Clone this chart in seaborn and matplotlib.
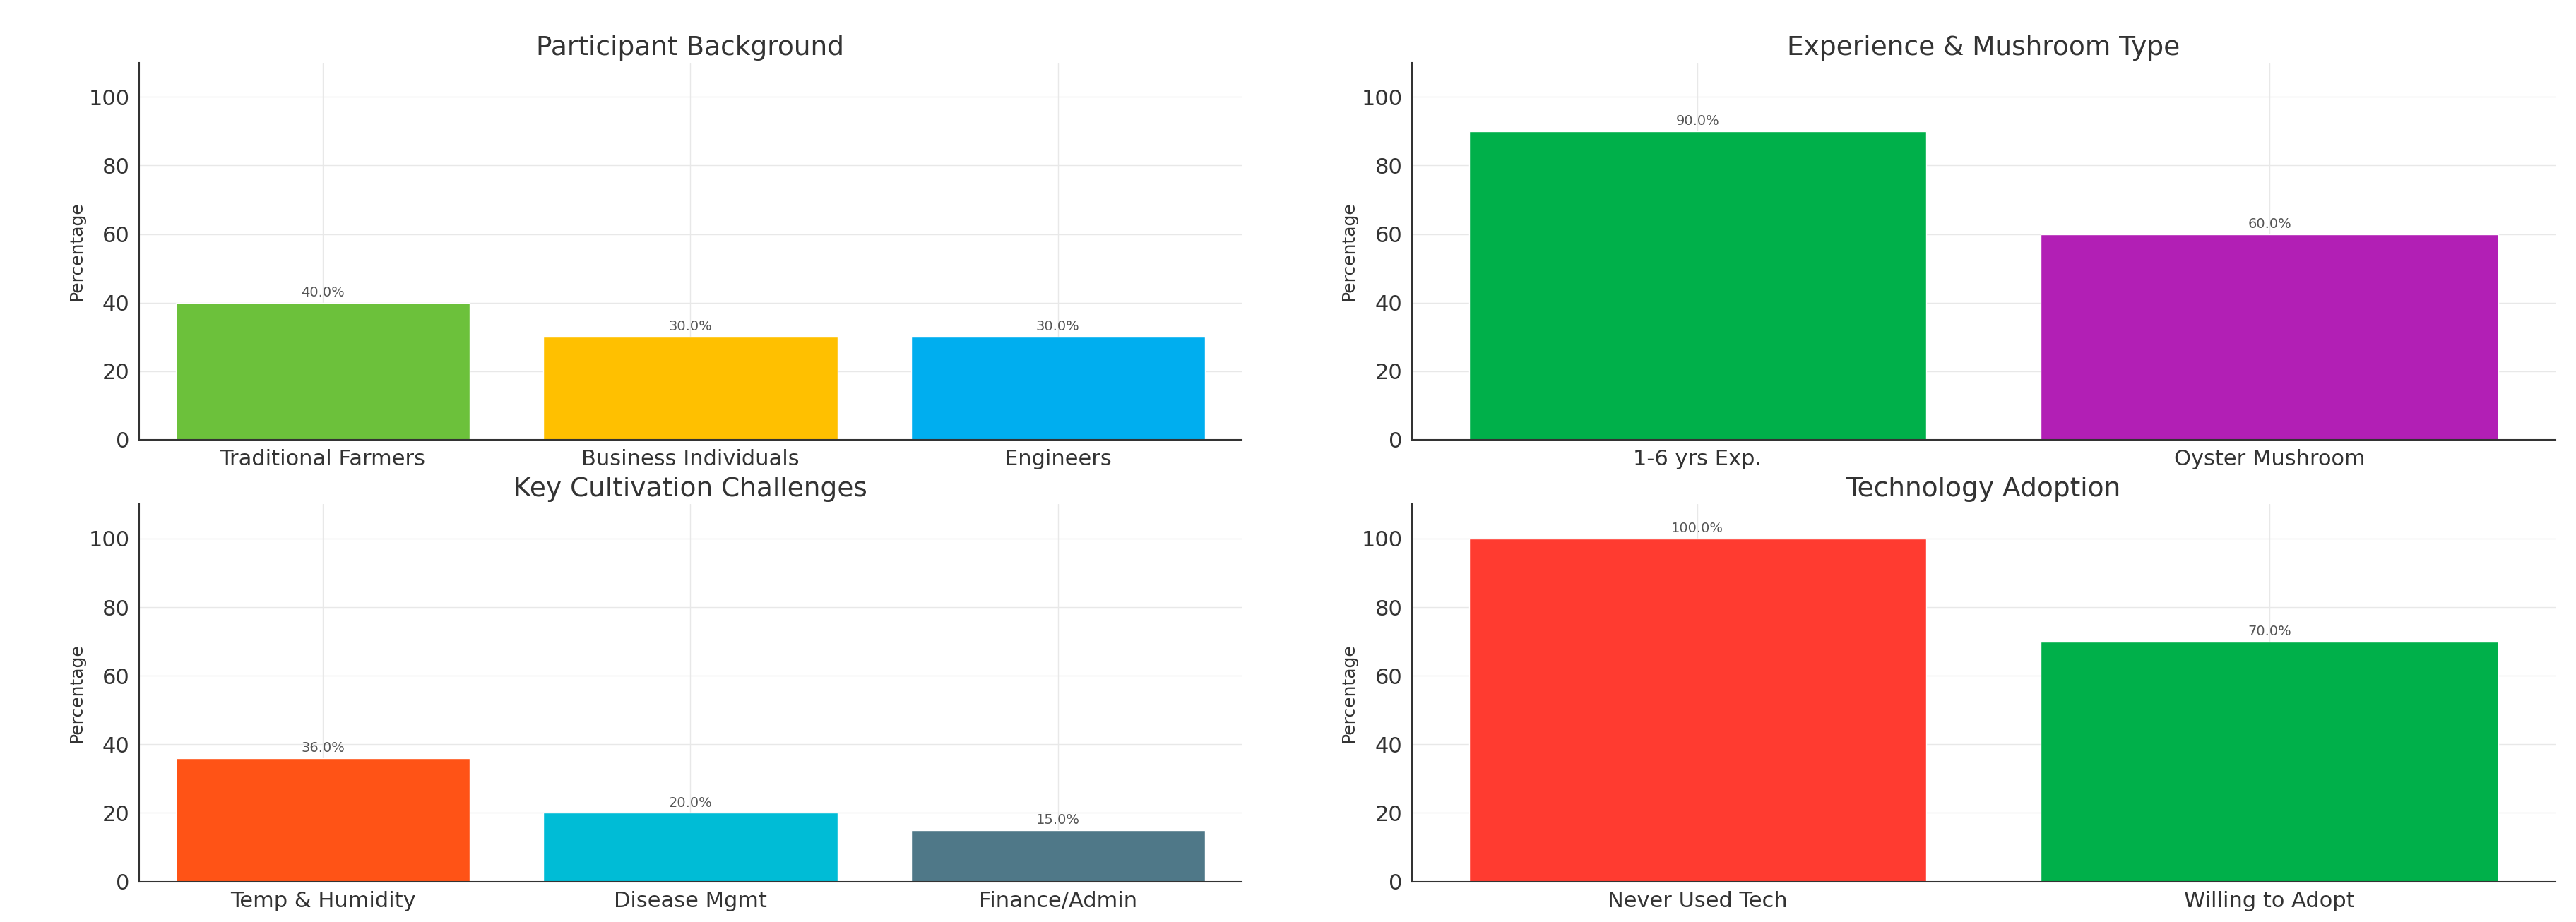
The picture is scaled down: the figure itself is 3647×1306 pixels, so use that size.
import matplotlib
matplotlib.use("Agg")
import matplotlib.pyplot as plt
import seaborn as sns
import pandas as pd

sns.set_theme(style="whitegrid")
plt.rcParams['font.family'] = ['DejaVu Sans']

titles = ["Participant Background", "Experience & Mushroom Type",
          "Key Cultivation Challenges", "Technology Adoption"]
cats1 = ["Traditional Farmers", "Business Individuals", "Engineers"]
vals1 = [40.0, 30.0, 30.0]
cols1 = ["#6CC13B", "#FFC000", "#00AEEF"]
cats2 = ["1-6 yrs Exp.", "Oyster Mushroom"]
vals2 = [90.0, 60.0]
cols2 = ["#00B04A", "#B21FB5"]
cats3 = ["Temp & Humidity", "Disease Mgmt", "Finance/Admin"]
vals3 = [36.0, 20.0, 15.0]
cols3 = ["#FF5316", "#00BCD6", "#4F7888"]
cats4 = ["Never Used Tech", "Willing to Adopt"]
vals4 = [100.0, 70.0]
cols4 = ["#FF3B30", "#00B04A"]

panels = [(cats1, vals1, cols1), (cats2, vals2, cols2),
          (cats3, vals3, cols3), (cats4, vals4, cols4)]

fig = plt.figure(figsize=(36.47, 13.06), dpi=100)
lefts = [0.054, 0.548]
widths = [0.428, 0.444]
bottoms = [0.523, 0.044]
h = 0.409
for i, (cats, vals, cols) in enumerate(panels):
    r, c = divmod(i, 2)
    ax = fig.add_axes([lefts[c], bottoms[r], widths[c], h])
    df = pd.DataFrame({"cat": cats, "val": vals})
    sns.barplot(data=df, x="cat", y="val", hue="cat", palette=cols,
                legend=False, ax=ax, width=0.8, saturation=1)
    for j, v in enumerate(vals):
        ax.text(j, v + 1, f"{v:.1f}%", ha="center", va="bottom",
                fontsize=14, color="#555555")
    ax.set_ylim(0, 110)
    ax.set_yticks([0, 20, 40, 60, 80, 100])
    ax.set_title(titles[i], fontsize=27, color="#333333", pad=8)
    ax.set_xlabel("")
    ax.set_ylabel("Percentage", fontsize=18, color="#333333")
    ax.tick_params(axis="both", labelsize=22, colors="#333333")
    ax.grid(True, color="#e8e8e8", linewidth=1)
    for s in ["top", "right"]:
        ax.spines[s].set_visible(False)
    for s in ["left", "bottom"]:
        ax.spines[s].set_color("#333333")
        ax.spines[s].set_linewidth(1.5)
fig.savefig("out.png", dpi=100, facecolor="white")
